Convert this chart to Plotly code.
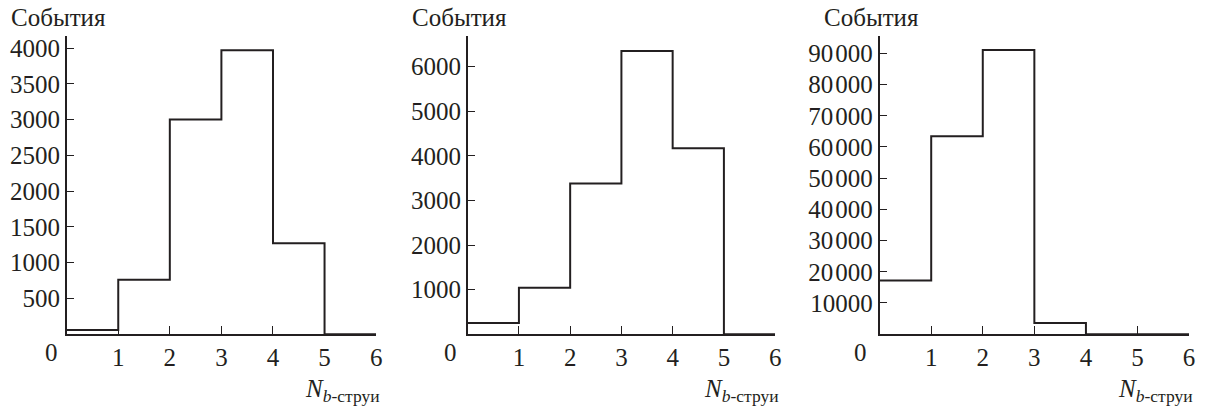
import plotly.graph_objects as go

# Data
bin_edges = [0, 1, 2, 3, 4, 5, 6]
counts_1 = [60, 760, 3000, 3970, 1270, 0]
counts_2 = [250, 1040, 3380, 6350, 4170, 0]
counts_3 = [17200, 63400, 91100, 3600, 0, 0]

yticks_1 = [500, 1000, 1500, 2000, 2500, 3000, 3500, 4000]
yticks_2 = [1000, 2000, 3000, 4000, 5000, 6000]
yticks_3 = [10000, 20000, 30000, 40000, 50000, 60000, 70000, 80000, 90000]
yticklabels_3 = ["10000"] + [f"{v // 1000}\u200a000" for v in yticks_3[1:]]
xticks = [1, 2, 3, 4, 5, 6]

y_title = "События"
x_title = "<i>N</i><sub><i>b</i>-струи</sub>"

W, H = 1212, 406
FONT = "Liberation Serif"
FS = 25
INK = "#231f20"

panels = [
    dict(counts=counts_1, yticks=yticks_1, ylabels=[str(v) for v in yticks_1],
         ymax=4170, x0=67, x1=378, zero_dx=-15),
    dict(counts=counts_2, yticks=yticks_2, ylabels=[str(v) for v in yticks_2],
         ymax=6690, x0=470, x1=779, zero_dx=-17),
    dict(counts=counts_3, yticks=yticks_3, ylabels=yticklabels_3,
         ymax=95600, x0=884, x1=1195, zero_dx=-19),
]

top_px, bot_px = 35, 334
ydom = [(H - bot_px) / H, (H - top_px) / H]

fig = go.Figure()
layout = dict(
    width=W, height=H,
    margin=dict(l=0, r=0, t=0, b=0),
    paper_bgcolor="white", plot_bgcolor="white",
    showlegend=False,
    font=dict(family=FONT, size=FS, color=INK),
)
annotations = []
for i, p in enumerate(panels):
    n = "" if i == 0 else str(i + 1)
    xa, ya = "x" + n, "y" + n
    step_y = p["counts"] + [p["counts"][-1]]
    fig.add_trace(go.Scatter(
        x=bin_edges, y=step_y, mode="lines", line_shape="hv",
        line=dict(color=INK, width=2), xaxis=xa, yaxis=ya,
        hoverinfo="skip", cliponaxis=False,
    ))
    layout["xaxis" + n] = dict(
        domain=[p["x0"] / W, p["x1"] / W], range=[0, 6], anchor=ya,
        tickvals=xticks, ticktext=[str(v) for v in xticks],
        ticks="inside", ticklen=8, tickwidth=1.3, tickcolor=INK,
        showline=True, linecolor=INK, linewidth=1.5,
        showgrid=False, zeroline=False, fixedrange=True,
        tickfont=dict(family=FONT, size=FS, color=INK),
    )
    layout["yaxis" + n] = dict(
        domain=ydom, range=[0, p["ymax"]], anchor=xa,
        tickvals=p["yticks"], ticktext=p["ylabels"],
        ticks="inside", ticklen=8, tickwidth=1.3, tickcolor=INK,
        showline=True, linecolor=INK, linewidth=1.5,
        showgrid=False, zeroline=False, fixedrange=True,
        tickfont=dict(family=FONT, size=FS, color=INK),
    )
    # origin label "0"
    annotations.append(dict(
        x=(p["x0"] + p["zero_dx"]) / W, y=(H - 352) / H, xref="paper", yref="paper",
        text="0", showarrow=False, xanchor="center", yanchor="middle",
        font=dict(family=FONT, size=FS, color=INK),
    ))
    # y title
    annotations.append(dict(
        x=(p["x0"] - 58) / W, y=(H - 17) / H, xref="paper", yref="paper",
        text=y_title, showarrow=False, xanchor="left", yanchor="middle",
        font=dict(family=FONT, size=FS, color=INK),
    ))
    # x title
    annotations.append(dict(
        x=(p["x1"] + 6) / W, y=(H - 390) / H, xref="paper", yref="paper",
        text=x_title, showarrow=False, xanchor="right", yanchor="middle",
        font=dict(family=FONT, size=FS, color=INK),
    ))

layout["annotations"] = annotations
fig.update_layout(**layout)
fig.write_html("out.html")
